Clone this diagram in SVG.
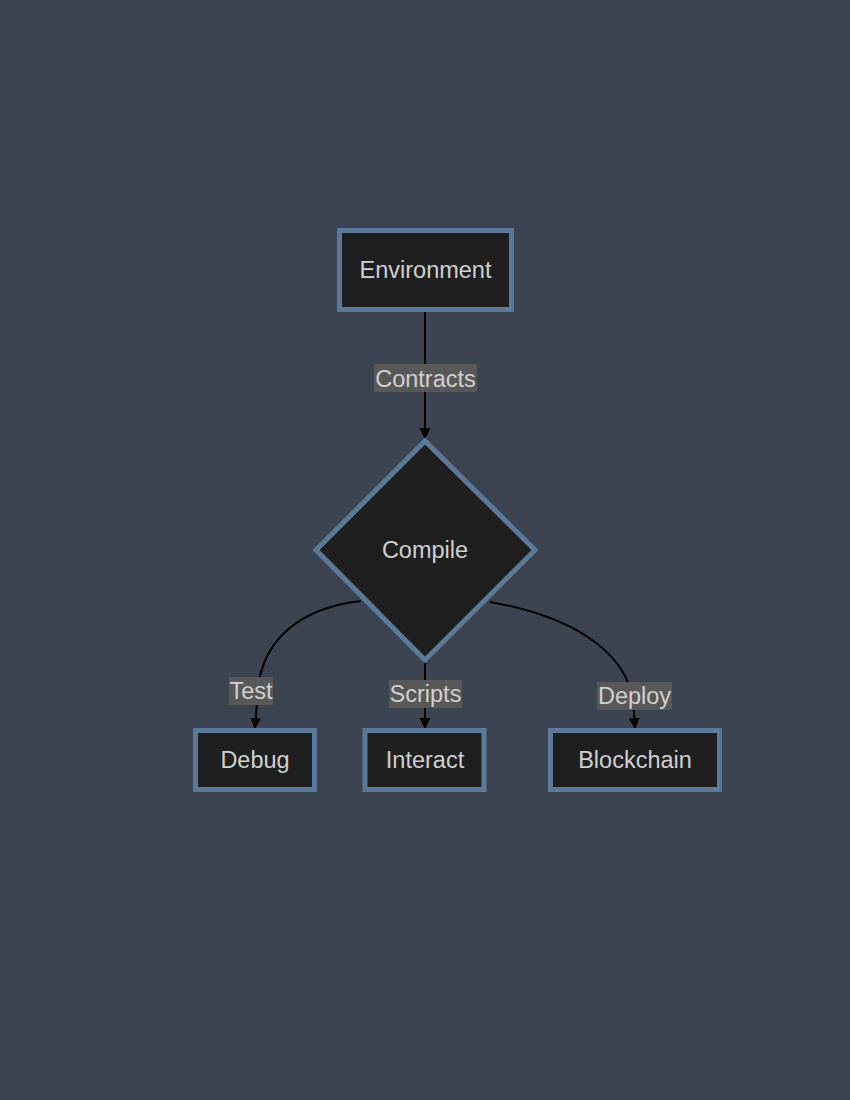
<svg xmlns="http://www.w3.org/2000/svg" width="850" height="1100" viewBox="0 0 850 1100">
<style>
.node rect, .node polygon { fill: #1f1f1f; stroke: #5b7a99; stroke-width: 5; }
.node text, .lbl text { font-family: "Liberation Sans", Arial, sans-serif; font-size: 23.5px; fill: #d0d0d0; text-anchor: middle; dominant-baseline: central; }
.lbl rect { fill: #585858; }
.edge { fill: none; stroke: #000; stroke-width: 2; }
</style>
<defs>
<marker id="arr" viewBox="0 0 10 10" refX="9" refY="5" markerWidth="5.5" markerHeight="6" markerUnits="strokeWidth" orient="auto">
<path d="M0,0 L10,5 L0,10 z" fill="#000"/>
</marker>
</defs>
<rect width="850" height="1100" fill="#3d4451"/>
<g id="connectors">
<path class="edge" d="M425,312 L425,438" marker-end="url(#arr)"/>
<path class="edge" d="M361,601 C300,608 262,640 258,690 L255,728" marker-end="url(#arr)"/>
<path class="edge" d="M425,662 L425,728" marker-end="url(#arr)"/>
<path class="edge" d="M490,602 C570,616 625,650 633,700 L635,728" marker-end="url(#arr)"/>
</g>
<g id="edge-labels">
<g class="lbl" id="lbl-contracts"><rect x="374" y="364" width="103" height="28"/><text x="425.5" y="378.5">Contracts</text></g>
<g class="lbl" id="lbl-test"><rect x="229" y="677" width="44" height="28"/><text x="251" y="691">Test</text></g>
<g class="lbl" id="lbl-scripts"><rect x="389" y="680" width="73" height="28"/><text x="425.5" y="694">Scripts</text></g>
<g class="lbl" id="lbl-deploy"><rect x="597" y="682" width="75" height="28"/><text x="634.5" y="696">Deploy</text></g>
</g>
<g class="node" id="environment"><rect x="339.5" y="230.5" width="172" height="79"/><text x="425.5" y="270">Environment</text></g>
<g class="node" id="compile"><polygon points="425,441 535,550 425,660 316,550"/><text x="425" y="550">Compile</text></g>
<g class="node" id="debug"><rect x="195.5" y="730.5" width="119" height="59"/><text x="255" y="760">Debug</text></g>
<g class="node" id="interact"><rect x="365" y="730.5" width="119" height="59"/><text x="425" y="760">Interact</text></g>
<g class="node" id="blockchain"><rect x="550.5" y="730.5" width="169" height="59"/><text x="635" y="760">Blockchain</text></g>
</svg>
